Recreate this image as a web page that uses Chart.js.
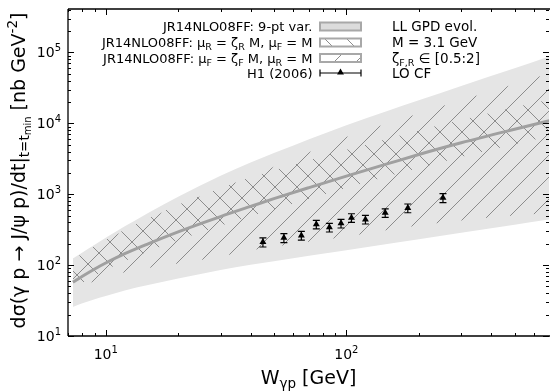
<!DOCTYPE html>
<html>
<head>
<meta charset="utf-8">
<script src="https://cdn.jsdelivr.net/npm/chart.js@4.4.1/dist/chart.umd.min.js"></script>
<style>
  body { margin: 0; background: #fff; }
  canvas { display: block; }
</style>
</head>
<body>
<canvas id="c" width="553" height="392"></canvas>
<script>
// W grid of the theory curves (GeV)
const W_GRID  = [7.3, 8, 9, 10, 12, 15, 20, 30, 40, 50, 70, 100, 150, 200, 300, 500, 700];
// central LL GPD evol. curve (nb/GeV^2)
const CENTRAL = [57.5, 69.8, 88.3, 107, 145, 200, 295, 484, 673, 865, 1240, 1800, 2720, 3630, 5310, 8240, 10900];
// 9-pt variation band
const BAND_UP = [124, 151, 194, 243, 352, 545, 922, 1815, 2800, 3800, 5980, 9420, 15200, 21100, 33600, 59700, 88300];
const BAND_LO = [25.7, 29, 33, 36.7, 44, 52.5, 64.6, 85, 101, 113.5, 135, 162, 200, 232, 285, 372, 442];
// muF = zetaF M, muR = M  ("/" hatch)
const MUF_UP  = [115, 143, 180, 224, 309, 447, 692, 1216, 1770, 2440, 3920, 6400, 10100, 13800, 21100, 36000, 50900];
const MUF_LO  = [47, 52, 59, 66, 79, 91, 105, 132, 162, 182, 214, 251, 316, 363, 427, 501, 550];
// muR = zetaR M, muF = M  ("\" hatch)
const MUR_UP  = [117, 146, 185, 229, 316, 457, 708, 1216, 1730, 2170, 3040, 4230, 6100, 7940, 11100, 16800, 21700];
const MUR_LO  = [47, 56, 70, 85, 114, 155, 224, 359, 488, 612, 857, 1220, 1800, 2340, 3350, 5080, 6560];
// H1 (2006) data
const H1_W    = [45, 55, 65, 75, 85, 95, 105, 120, 145, 180, 252];
const H1_XS   = [211, 243, 262, 376, 341, 388, 466, 441, 547, 638, 891];
const H1_ERR  = [31, 35, 37, 52, 48, 54, 64, 61, 76, 90, 128];

const X_DECADES = [1, 2];       // labelled x ticks 10^k
const Y_DECADES = [1, 2, 3, 4, 5];

const FONT = '"DejaVu Sans", sans-serif';
const canvas = document.getElementById('c');
const ctx0 = canvas.getContext('2d');

// hatch patterns like matplotlib '/' and '\'
function makeHatch(dir) {
    const s = 22;
    const c = document.createElement('canvas');
    c.width = s; c.height = s;
    const g = c.getContext('2d');
    g.strokeStyle = '#8c8c8c';
    g.lineWidth = 1;
    g.beginPath();
    if (dir === '/') {
        g.moveTo(-2, s + 2); g.lineTo(s + 2, -2);
        g.moveTo(-2, 2); g.lineTo(2, -2);
        g.moveTo(s - 2, s + 2); g.lineTo(s + 2, s - 2);
    } else {
        g.moveTo(-2, -2); g.lineTo(s + 2, s + 2);
        g.moveTo(s - 2, -2); g.lineTo(s + 2, 2);
        g.moveTo(-2, s - 2); g.lineTo(2, s + 2);
    }
    g.stroke();
    return ctx0.createPattern(c, 'repeat');
}
const HATCH_F = makeHatch('/');
const HATCH_R = makeHatch('\\');

const pts = (xs, ys) => xs.map((x, i) => ({ x: x, y: ys[i] }));

function band(data, extra) {
    return Object.assign({
        data: data,
        borderWidth: 0,
        borderColor: 'rgba(0,0,0,0)',
        pointRadius: 0,
        tension: 0.4,
        cubicInterpolationMode: 'monotone',
        fill: false
    }, extra);
}

// text made of runs: [text, size, dy]
function runsWidth(ctx, runs) {
    let w = 0;
    runs.forEach(r => { ctx.font = r[1] + 'px ' + FONT; w += ctx.measureText(r[0]).width; });
    return w;
}
function drawRuns(ctx, x, y, runs, align) {
    const w = runsWidth(ctx, runs);
    let cx = align === 'right' ? x - w : align === 'center' ? x - w / 2 : x;
    ctx.textAlign = 'left';
    ctx.textBaseline = 'alphabetic';
    runs.forEach(r => {
        ctx.font = r[1] + 'px ' + FONT;
        ctx.fillText(r[0], cx, y + (r[2] || 0));
        cx += ctx.measureText(r[0]).width;
    });
}

function triangle(ctx, x, y, r) {
    ctx.beginPath();
    ctx.moveTo(x, y - r);
    ctx.lineTo(x + r * 0.866, y + r / 2);
    ctx.lineTo(x - r * 0.866, y + r / 2);
    ctx.closePath();
    ctx.fill();
}

// error bars for the H1 points
const errorBars = {
    id: 'errorBars',
    afterDatasetsDraw(chart) {
        const ctx = chart.ctx;
        const y = chart.scales.y;
        const meta = chart.getDatasetMeta(7);
        ctx.save();
        ctx.strokeStyle = '#000';
        ctx.lineWidth = 1.2;
        meta.data.forEach((p, i) => {
            const y1 = y.getPixelForValue(H1_XS[i] + H1_ERR[i]);
            const y2 = y.getPixelForValue(H1_XS[i] - H1_ERR[i]);
            ctx.beginPath();
            ctx.moveTo(p.x, y1); ctx.lineTo(p.x, y2);
            ctx.moveTo(p.x - 3.5, y1); ctx.lineTo(p.x + 3.5, y1);
            ctx.moveTo(p.x - 3.5, y2); ctx.lineTo(p.x + 3.5, y2);
            ctx.stroke();
        });
        ctx.restore();
    }
};

// frame, inward ticks, tick labels, axis titles, legend
const decor = {
    id: 'decor',
    afterDraw(chart) {
        const ctx = chart.ctx;
        const a = chart.chartArea;
        const x = chart.scales.x, y = chart.scales.y;
        ctx.save();
        ctx.strokeStyle = '#000';
        ctx.lineWidth = 1.3;
        ctx.beginPath();
        ctx.moveTo(a.left, a.top); ctx.lineTo(a.right + 1, a.top);
        ctx.moveTo(a.left, a.top); ctx.lineTo(a.left, a.bottom);
        ctx.moveTo(a.left, a.bottom); ctx.lineTo(a.right + 1, a.bottom);
        ctx.stroke();

        ctx.lineWidth = 1;
        ctx.beginPath();
        for (let k = 0; k <= 2; k++) {
            for (let m = 1; m <= 9; m++) {
                const v = m * Math.pow(10, k);
                if (v < x.min || v > x.max) continue;
                const px = Math.round(x.getPixelForValue(v)) + 0.5;
                const len = m === 1 ? 6 : 3;
                ctx.moveTo(px, a.bottom); ctx.lineTo(px, a.bottom - len);
                ctx.moveTo(px, a.top); ctx.lineTo(px, a.top + len);
            }
        }
        for (let k = 1; k <= 5; k++) {
            for (let m = 1; m <= 9; m++) {
                const v = m * Math.pow(10, k);
                if (v < y.min || v > y.max) continue;
                const py = Math.round(y.getPixelForValue(v)) + 0.5;
                const len = m === 1 ? 6 : 3;
                ctx.moveTo(a.left, py); ctx.lineTo(a.left + len, py);
                ctx.moveTo(a.right, py); ctx.lineTo(a.right - len, py);
            }
        }
        ctx.stroke();

        ctx.fillStyle = '#000';
        X_DECADES.forEach(k => {
            const px = x.getPixelForValue(Math.pow(10, k));
            drawRuns(ctx, px, 358.5, [['10', 14, 0], [String(k), 10, -6]], 'center');
        });
        Y_DECADES.forEach(k => {
            const py = y.getPixelForValue(Math.pow(10, k));
            drawRuns(ctx, 61, py + 5, [['10', 14, 0], [String(k), 10, -6]], 'right');
        });

        // axis titles
        drawRuns(ctx, (a.left + a.right) / 2, 384, [['W', 19, 0], ['\u03b3p', 13.5, 4], [' [GeV]', 19, 0]], 'center');
        ctx.save();
        ctx.translate(25, (a.top + a.bottom) / 2 - 2);
        ctx.rotate(-Math.PI / 2);
        drawRuns(ctx, 0, 0, [
            ['d\u03c3(\u03b3 p \u2192 J/\u03c8 p)/dt|', 19, 0],
            ['t=t', 13.5, 4],
            ['min', 10, 6],
            [' [nb GeV', 19, 0],
            ['-2', 13.5, -8],
            [']', 19, 0]
        ], 'center');
        ctx.restore();

        // legend
        const tx = 312.5, bx = 320, bw = 41, bh = 8;
        const rows = [26.5, 42.5, 58, 73];
        ctx.fillStyle = '#000';
        drawRuns(ctx, tx, rows[0] + 4.5, [['JR14NLO08FF: 9-pt var.', 13, 0]], 'right');
        drawRuns(ctx, tx, rows[1] + 4.5, [['JR14NLO08FF: \u03bc', 13, 0], ['R', 9.5, 3], [' = \u03b6', 13, 0], ['R', 9.5, 3], [' M, \u03bc', 13, 0], ['F', 9.5, 3], [' = M', 13, 0]], 'right');
        drawRuns(ctx, tx, rows[2] + 4.5, [['JR14NLO08FF: \u03bc', 13, 0], ['F', 9.5, 3], [' = \u03b6', 13, 0], ['F', 9.5, 3], [' M, \u03bc', 13, 0], ['R', 9.5, 3], [' = M', 13, 0]], 'right');
        drawRuns(ctx, tx, rows[3] + 4.5, [['H1 (2006)', 13, 0]], 'right');

        const fills = ['#dcdcdc', HATCH_R, HATCH_F];
        fills.forEach((f, i) => {
            const yy = rows[i] - bh / 2;
            ctx.fillStyle = '#fff';
            ctx.fillRect(bx, yy, bw, bh);
            ctx.fillStyle = f;
            ctx.fillRect(bx, yy, bw, bh);
            ctx.strokeStyle = '#a8a8a8';
            ctx.lineWidth = 2;
            ctx.strokeRect(bx, yy, bw, bh);
        });
        ctx.strokeStyle = '#000';
        ctx.lineWidth = 1.2;
        ctx.beginPath();
        ctx.moveTo(bx, rows[3]); ctx.lineTo(bx + bw, rows[3]);
        ctx.moveTo(bx, rows[3] - 3.5); ctx.lineTo(bx, rows[3] + 3.5);
        ctx.moveTo(bx + bw, rows[3] - 3.5); ctx.lineTo(bx + bw, rows[3] + 3.5);
        ctx.stroke();
        ctx.fillStyle = '#000';
        triangle(ctx, bx + bw / 2, rows[3] - 0.5, 4);

        const rx = 392;
        drawRuns(ctx, rx, rows[0] + 4.5, [['LL GPD evol.', 13.5, 0]], 'left');
        drawRuns(ctx, rx, rows[1] + 4.5, [['M = 3.1 GeV', 13.5, 0]], 'left');
        drawRuns(ctx, rx, rows[2] + 4.5, [['\u03b6', 13.5, 0], ['F,R', 9.5, 3], [' \u2208 [0.5:2]', 13.5, 0]], 'left');
        drawRuns(ctx, rx, rows[3] + 4.5, [['LO CF', 13.5, 0]], 'left');
        ctx.restore();
    }
};

new Chart(canvas, {
    type: 'line',
    data: {
        datasets: [
            band(pts(W_GRID, BAND_UP), { fill: '+1', backgroundColor: '#e5e5e5', order: 10 }),
            band(pts(W_GRID, BAND_LO), { order: 10 }),
            band(pts(W_GRID, MUF_UP), { fill: '+1', backgroundColor: HATCH_F, order: 9 }),
            band(pts(W_GRID, MUF_LO), { order: 9 }),
            band(pts(W_GRID, MUR_UP), { fill: '+1', backgroundColor: HATCH_R, order: 8 }),
            band(pts(W_GRID, MUR_LO), { order: 8 }),
            {
                data: pts(W_GRID, CENTRAL),
                borderColor: '#a0a0a0',
                borderWidth: 3,
                pointRadius: 0,
                tension: 0.4,
                cubicInterpolationMode: 'monotone',
                fill: false,
                order: 2
            },
            {
                data: pts(H1_W, H1_XS),
                showLine: false,
                pointStyle: 'triangle',
                pointRadius: 4,
                pointBackgroundColor: '#000',
                pointBorderColor: '#000',
                pointBorderWidth: 0,
                order: 1
            }
        ]
    },
    options: {
        responsive: false,
        animation: false,
        devicePixelRatio: 1,
        layout: { padding: { left: 0, right: 0, top: 9, bottom: 0 } },
        plugins: { legend: { display: false }, tooltip: { enabled: false } },
        scales: {
            x: {
                type: 'logarithmic',
                min: 6.97, max: 695,
                ticks: { display: false },
                grid: { display: false },
                border: { display: false },
                afterFit: s => { s.height = 56; }
            },
            y: {
                type: 'logarithmic',
                min: 10, max: 4.1e5,
                ticks: { display: false },
                grid: { display: false },
                border: { display: false },
                afterFit: s => { s.width = 68; }
            }
        }
    },
    plugins: [errorBars, decor]
});
</script>
</body>
</html>
